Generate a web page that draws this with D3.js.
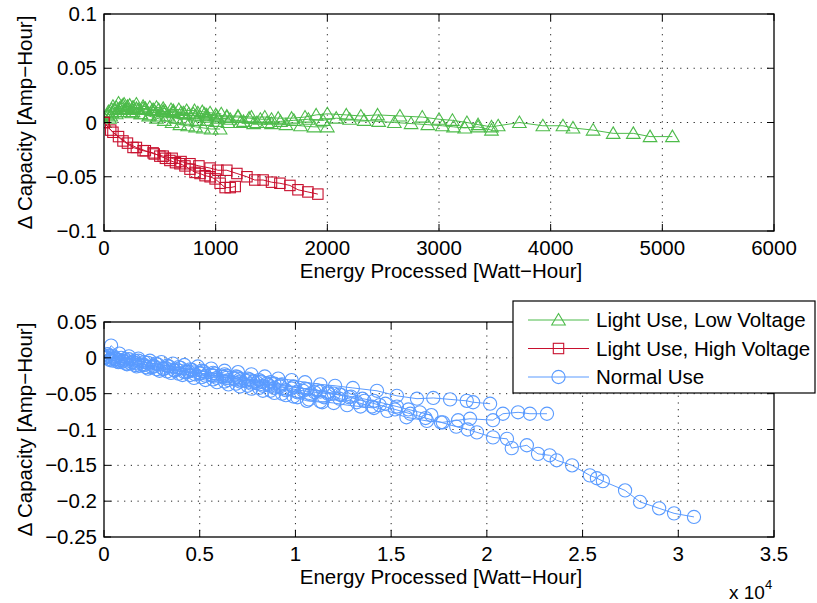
<!DOCTYPE html>
<html><head><meta charset="utf-8">
<script src="https://cdn.jsdelivr.net/npm/d3@7"></script>
<style>body{margin:0;background:#fff} text{font-family:"Liberation Sans",Arial,Helvetica,sans-serif;fill:#000}</style>
</head><body><svg id="c" width="817" height="603"></svg>
<script>
// ---------------- DATA ----------------
// Top panel: Light Use, Low Voltage (green, several cells)
const greenE1 = [0,70,140,210,290,370,450,530,620,710,800,900,1000,1100,1200,1320,1440,1560,1680,1800,1900,2000,2170,2300,2450,2650,2850,3000,3120,3250,3350,3470,3530,3720,3930,4110,4200,4380,4560,4740,4890,5090];
const greenV1 = [0,0.009,0.013,0.015,0.013,0.012,0.011,0.010,0.010,0.009,0.008,0.008,0.007,0.006,0.006,0.005,0.005,0.004,0.004,0.005,0.007,0.008,0.007,0.006,0.007,0.006,0.005,0.003,0.002,0.000,-0.002,-0.004,-0.003,0.000,-0.003,-0.003,-0.005,-0.007,-0.010,-0.010,-0.013,-0.013];
const greenE2 = [0,50,110,180,250,330,410,490,570,650,740,830,920,1010,1110,1220,1340,1460,1580,1700,1830,1960,2080,2200,2330,2460,2600,2750,2900,3030,3130,3230,3350,3470];
const greenV2 = [0,0.004,0.008,0.010,0.009,0.008,0.007,0.006,0.006,0.004,0.003,0.002,0.002,0.001,0.000,0.000,-0.001,0.000,0.001,0.002,0.003,0.002,0.004,0.003,0.002,0.001,0.000,-0.001,-0.002,-0.003,-0.004,-0.005,-0.004,-0.007];
const greenE3 = [0,40,80,130,180,230,290,350,410,470,530,600,670,740,810,880,950,1050];
const greenV3 = [0,0.010,0.015,0.018,0.017,0.016,0.017,0.015,0.014,0.014,0.013,0.012,0.012,0.011,0.011,0.010,0.009,0.008];
const greenE4 = [0,60,120,190,260,330,400,470,540,610,680,750,820,890,960,1040];
const greenV4 = [0,0.006,0.010,0.012,0.010,0.008,0.006,0.004,0.002,0.000,-0.002,-0.003,-0.004,-0.005,-0.006,-0.006];
const greenE5 = [0,90,170,260,350,440,530,620,720,820,920,1020,1130,1250,1370,1500,1630,1760,1880,2000];
const greenV5 = [0,0.012,0.016,0.014,0.013,0.012,0.010,0.009,0.008,0.006,0.005,0.004,0.003,0.001,0.000,-0.001,-0.002,-0.003,-0.004,-0.004];
const greenE6 = [0,30,70,110,160,210,260,310,370,430,490,550,620,690,760,840,920,1010,1100,1200,1300,1400,1500];
const greenV6 = [0,0.007,0.012,0.014,0.015,0.013,0.014,0.012,0.013,0.011,0.012,0.010,0.011,0.009,0.008,0.009,0.007,0.006,0.005,0.005,0.004,0.003,0.003];
// Top panel: Light Use, High Voltage (red)
const redE1 = [0,80,170,260,350,440,500,550,590,640,680,725,770,815,860,905,950,995,1040,1085,1130,1175];
const redV1 = [0,-0.009,-0.017,-0.023,-0.026,-0.028,-0.031,-0.033,-0.035,-0.037,-0.038,-0.040,-0.043,-0.046,-0.047,-0.049,-0.050,-0.052,-0.056,-0.060,-0.060,-0.059];
const redE2 = [0,60,130,210,290,370,450,530,610,690,770,850,950,1020,1100,1190,1280,1350,1425,1500,1575,1665,1737,1826,1915];
const redV2 = [0,-0.007,-0.013,-0.019,-0.023,-0.026,-0.029,-0.031,-0.033,-0.036,-0.038,-0.040,-0.042,-0.044,-0.044,-0.047,-0.050,-0.053,-0.053,-0.055,-0.056,-0.058,-0.062,-0.064,-0.066];
// Bottom panel: Normal Use (blue, several cells)
const blueE1 = [0,450,900,1400,1900,2500,3100,3700,4300,5000,5700,6400,7100,7800,8500,9200,9900,10600,11300,12000,12800,13600,14400,15200,16000,16800,17600,18400,19000,19480,20320,21050,21300,22090,22670,23280,23650,24450,25380,25750,26060,27220,28000,29000,29780,30820];
const blueV1 = [0,-0.004,-0.006,-0.008,-0.011,-0.013,-0.016,-0.018,-0.020,-0.022,-0.025,-0.028,-0.030,-0.033,-0.036,-0.038,-0.041,-0.044,-0.047,-0.050,-0.055,-0.060,-0.066,-0.072,-0.078,-0.084,-0.090,-0.096,-0.100,-0.104,-0.111,-0.113,-0.126,-0.122,-0.134,-0.136,-0.143,-0.150,-0.164,-0.168,-0.172,-0.185,-0.201,-0.210,-0.217,-0.222];
const blueE2 = [0,370,800,1300,1800,2400,3000,3600,4200,4900,5600,6300,7000,7700,8400,9100,9800,10500,11300,12070,13000,14260,15300,16350,17200,18080,18950,19280,20170];
const blueV2 = [0,0.017,0.006,0.002,-0.001,-0.004,-0.006,-0.008,-0.010,-0.012,-0.015,-0.018,-0.020,-0.023,-0.026,-0.029,-0.031,-0.034,-0.037,-0.039,-0.042,-0.046,-0.053,-0.057,-0.056,-0.058,-0.060,-0.062,-0.064];
const blueE3 = [0,300,700,1150,1650,2200,2750,3300,3900,4500,5100,5700,6300,6900,7500,8100,8700,9300,9900,10600,11400,12300,13200,14000,14800,15800,16870,17700,18500,19120,20320,20840,21630,22250,23140];
const blueV3 = [0,-0.003,-0.005,-0.008,-0.010,-0.013,-0.016,-0.019,-0.022,-0.024,-0.027,-0.030,-0.033,-0.036,-0.039,-0.042,-0.046,-0.050,-0.054,-0.060,-0.062,-0.057,-0.062,-0.068,-0.074,-0.083,-0.088,-0.090,-0.087,-0.085,-0.087,-0.078,-0.076,-0.078,-0.078];
const blueE4 = [0,250,600,1000,1500,2000,2600,3200,3800,4400,5000,5600,6200,6800,7400,8000,8600,9200,9800,10400,11000,11700,12400];
const blueV4 = [0,0.003,-0.002,-0.004,-0.006,-0.009,-0.011,-0.014,-0.016,-0.019,-0.021,-0.024,-0.026,-0.029,-0.032,-0.035,-0.038,-0.040,-0.043,-0.046,-0.048,-0.050,-0.052];
const blueE5 = [0,200,500,900,1300,1800,2300,2800,3400,4000,4600,5200,5800,6400,7000,7600,8200,8900];
const blueV5 = [0,0.005,0.002,0.000,-0.002,-0.004,-0.007,-0.009,-0.012,-0.014,-0.017,-0.019,-0.022,-0.025,-0.027,-0.030,-0.033,-0.036];
const blueE6 = [0,350,750,1200,1700,2300,2900,3500,4100,4700,5300,5900,6500,7100,7700,8300,8900,9500,10100,10700,11300,12000,12700,13400,14100];
const blueV6 = [0,-0.002,-0.006,-0.009,-0.012,-0.015,-0.018,-0.021,-0.024,-0.028,-0.031,-0.034,-0.037,-0.040,-0.043,-0.046,-0.049,-0.052,-0.055,-0.058,-0.061,-0.063,-0.066,-0.068,-0.070];
const blueE7 = [0,150,450,800,1200,1650,2100,2600,3100,3650,4200,4750,5300,5900,6500,7100,7700,8300,8900,9500,10100,10800,11500];
const blueV7 = [0,0.001,-0.001,-0.003,-0.005,-0.007,-0.010,-0.012,-0.015,-0.017,-0.020,-0.023,-0.025,-0.028,-0.031,-0.033,-0.036,-0.039,-0.042,-0.045,-0.048,-0.051,-0.055];
const blueE8 = [0,550,1100,1600,2100,2700,3300,3900,4500,5100,5700,6300,6900,7500,8100,8700,9300,9900,10500,11100,11700,12300,12900,13500,14100,14700,15300,15900,16500,17100];
const blueV8 = [0,0.000,-0.002,-0.004,-0.006,-0.008,-0.011,-0.013,-0.016,-0.018,-0.021,-0.023,-0.026,-0.029,-0.031,-0.034,-0.037,-0.040,-0.043,-0.045,-0.048,-0.051,-0.054,-0.057,-0.060,-0.064,-0.068,-0.072,-0.076,-0.080];

// ticks
const topXTicks = [0,1000,2000,3000,4000,5000,6000];
const topXLabels = ["0","1000","2000","3000","4000","5000","6000"];
const topYTicks = [-0.1,-0.05,0,0.05,0.1];
const topYLabels = ["\u22120.1","\u22120.05","0","0.05","0.1"];
const botXTicks = [0,5000,10000,15000,20000,25000,30000,35000];
const botXLabels = ["0","0.5","1","1.5","2","2.5","3","3.5"];
const botYTicks = [-0.25,-0.2,-0.15,-0.1,-0.05,0,0.05];
const botYLabels = ["\u22120.25","\u22120.2","\u22120.15","\u22120.1","\u22120.05","0","0.05"];
const legendLabels = ["Light Use, Low Voltage","Light Use, High Voltage","Normal Use"];

// ---------------- STYLE ----------------
const GREEN = "#4dbb4a", RED = "#c8102e", BLUE = "#5a9bff";
const FS = 20.5;
const svg = d3.select("#c");
const zip = (E,V) => E.map((e,i)=>[e,V[i]]);

function marker(g, shape, color, x, y) {
  if (shape === "tri") {
    g.append("path").attr("d", `M${x},${y-6.5}L${x+6.8},${y+5}L${x-6.8},${y+5}Z`)
      .attr("fill","none").attr("stroke",color).attr("stroke-width",1.1);
  } else if (shape === "sq") {
    g.append("rect").attr("x",x-5.2).attr("y",y-5.2).attr("width",10.4).attr("height",10.4)
      .attr("fill","none").attr("stroke",color).attr("stroke-width",1.1);
  } else {
    g.append("circle").attr("cx",x).attr("cy",y).attr("r",6.6)
      .attr("fill","none").attr("stroke",color).attr("stroke-width",1.1);
  }
}

function panel(o) {
  const x = d3.scaleLinear().domain(o.xd).range([104,774]);
  const y = d3.scaleLinear().domain(o.yd).range(o.yr);
  const g = svg.append("g");
  const [y0,y1] = [o.yr[1], o.yr[0]];
  o.xt.forEach(t => { if (t!==o.xd[0] && t!==o.xd[1])
    g.append("line").attr("x1",x(t)).attr("x2",x(t)).attr("y1",y0).attr("y2",y1)
     .attr("stroke","#222").attr("stroke-width",1).attr("stroke-dasharray","1.2,5.5"); });
  o.yt.forEach(t => { if (t!==o.yd[0] && t!==o.yd[1])
    g.append("line").attr("x1",104).attr("x2",774).attr("y1",y(t)).attr("y2",y(t))
     .attr("stroke","#222").attr("stroke-width",1).attr("stroke-dasharray","1.2,5.5"); });
  const line = d3.line().x(d=>x(d[0])).y(d=>y(d[1]));
  const clip = "clip"+o.id;
  svg.append("clipPath").attr("id",clip).append("rect").attr("x",104).attr("y",y0).attr("width",670).attr("height",y1-y0);
  const sg = g.append("g").attr("clip-path",`url(#${clip})`);
  o.series.forEach(s => {
    const pts = zip(s.E, s.V);
    sg.append("path").attr("d", line(pts)).attr("fill","none").attr("stroke",s.color).attr("stroke-width",1);
    pts.forEach(p => marker(sg, s.shape, s.color, x(p[0]), y(p[1])));
  });
  g.append("rect").attr("x",104).attr("y",y0).attr("width",670).attr("height",y1-y0)
    .attr("fill","none").attr("stroke","#000").attr("stroke-width",1.3);
  const TL = 7;
  o.xt.forEach(t => {
    g.append("line").attr("x1",x(t)).attr("x2",x(t)).attr("y1",y1).attr("y2",y1-TL).attr("stroke","#000");
    g.append("line").attr("x1",x(t)).attr("x2",x(t)).attr("y1",y0).attr("y2",y0+TL).attr("stroke","#000");
  });
  o.yt.forEach(t => {
    g.append("line").attr("x1",104).attr("x2",104+TL).attr("y1",y(t)).attr("y2",y(t)).attr("stroke","#000");
    g.append("line").attr("x1",774).attr("x2",774-TL).attr("y1",y(t)).attr("y2",y(t)).attr("stroke","#000");
  });
  o.xt.forEach((t,i) => g.append("text").attr("x",x(t)).attr("y",y1+24).attr("text-anchor","middle")
    .attr("font-size",FS).text(o.xl[i]));
  o.yt.forEach((t,i) => g.append("text").attr("x",97).attr("y",y(t)+7).attr("text-anchor","end")
    .attr("font-size",FS).text(o.yl[i]));
  g.append("text").attr("x",441).attr("y",y1+47).attr("text-anchor","middle").attr("font-size",FS)
    .text("Energy Processed [Watt\u2212Hour]");
  g.append("text").attr("transform",`translate(32,${(y0+y1)/2}) rotate(-90)`).attr("text-anchor","middle")
    .attr("font-size",FS).text("\u0394 Capacity [Amp\u2212Hour]");
  return {x,y,g};
}

panel({id:"t", xd:[0,6000], yd:[-0.1,0.1], yr:[231,14], xt:topXTicks, xl:topXLabels, yt:topYTicks, yl:topYLabels,
  series:[
    {E:greenE1,V:greenV1,color:GREEN,shape:"tri"},
    {E:greenE2,V:greenV2,color:GREEN,shape:"tri"},
    {E:greenE3,V:greenV3,color:GREEN,shape:"tri"},
    {E:greenE4,V:greenV4,color:GREEN,shape:"tri"},
    {E:greenE5,V:greenV5,color:GREEN,shape:"tri"},
    {E:greenE6,V:greenV6,color:GREEN,shape:"tri"},
    {E:redE1,V:redV1,color:RED,shape:"sq"},
    {E:redE2,V:redV2,color:RED,shape:"sq"}
  ]});

panel({id:"b", xd:[0,35000], yd:[-0.25,0.05], yr:[537,322], xt:botXTicks, xl:botXLabels, yt:botYTicks, yl:botYLabels,
  series:[
    {E:blueE1,V:blueV1,color:BLUE,shape:"circ"},
    {E:blueE2,V:blueV2,color:BLUE,shape:"circ"},
    {E:blueE3,V:blueV3,color:BLUE,shape:"circ"},
    {E:blueE4,V:blueV4,color:BLUE,shape:"circ"},
    {E:blueE5,V:blueV5,color:BLUE,shape:"circ"},
    {E:blueE6,V:blueV6,color:BLUE,shape:"circ"},
    {E:blueE7,V:blueV7,color:BLUE,shape:"circ"},
    {E:blueE8,V:blueV8,color:BLUE,shape:"circ"}
  ]});

const ex = svg.append("text").attr("x",729).attr("y",599).attr("font-size",19);
ex.append("tspan").text("x 10");
ex.append("tspan").attr("dy",-10).attr("font-size",13).text("4");

const lg = svg.append("g");
lg.append("rect").attr("x",513).attr("y",301).attr("width",302).attr("height",92)
  .attr("fill","#fff").attr("stroke","#000").attr("stroke-width",1.2);
const lcols = [GREEN, RED, BLUE], lshapes = ["tri","sq","circ"];
legendLabels.forEach((t,i) => {
  const yy = 320 + i*28.5;
  lg.append("line").attr("x1",528).attr("x2",589).attr("y1",yy).attr("y2",yy).attr("stroke",lcols[i]).attr("stroke-width",1);
  marker(lg, lshapes[i], lcols[i], 558.5, yy);
  lg.append("text").attr("x",596).attr("y",yy+7).attr("font-size",FS).text(t);
});
</script></body></html>
